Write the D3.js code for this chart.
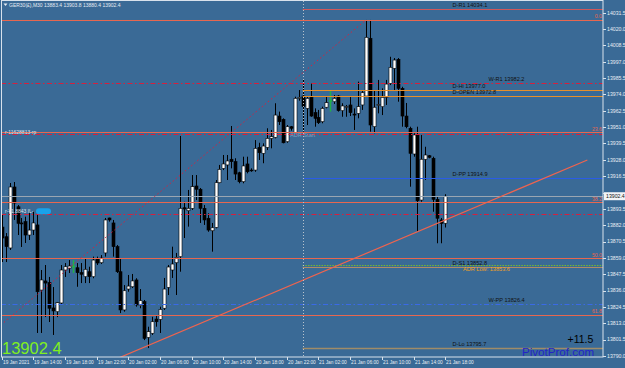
<!DOCTYPE html>
<html><head><meta charset="utf-8">
<script src="https://cdn.jsdelivr.net/npm/d3@7"></script>
<style>html,body{margin:0;padding:0;background:#3a6a96;overflow:hidden}svg{display:block}</style>
</head><body><div id="chart"></div>
<script>
// ---- data (GER30 M30, bar index 0 = 19 Jan 2021 10:00) ----
const opens  = [13880.7,13873.9,13866.0,13908.9,13895.0,13883.6,13884.5,13875.1,13878.6,13882.2,13836.4,13842.8,13841.6,13823.8,13821.2,13827.3,13850.5,13851.7,13852.6,13852.1,13848.6,13845.8,13849.3,13845.8,13858.2,13855.6,13862.5,13887.1,13883.6,13866.9,13849.3,13822.4,13837.1,13838.7,13843.5,13825.4,13828.2,13803.1,13806.0,13816.0,13815.8,13823.6,13838.3,13850.5,13855.6,13859.9,13894.3,13892.2,13893.9,13909.6,13907.3,13893.9,13886.9,13878.1,13880.5,13911.9,13922.0,13924.4,13928.4,13926.7,13918.9,13912.6,13925.1,13920.8,13920.8,13936.8,13932.6,13936.8,13943.1,13943.8,13958.8,13956.5,13940.8,13951.3,13947.1,13971.3,13972.9,13964.2,13972.0,13961.2,13957.9,13954.8,13965.0,13968.9,13968.9,13972.9,13962.6,13965.4,13966.6,13960.2,13960.7,13966.6,13972.9,14013.5,13951.3,13966.6,13965.4,13972.0,13981.8,13992.4,13998.7,13978.3,13958.8,13950.2,13932.1,13945.5,13899.7,13928.4,13930.9,13929.1,13900.2,13885.7,13883.4];
const highs  = [13889.2,13876.5,13911.7,13912.4,13896.2,13887.1,13888.0,13891.5,13891.5,13889.2,13850.5,13854.0,13845.6,13838.5,13828.0,13854.0,13855.4,13857.5,13857.5,13855.4,13855.4,13858.9,13852.8,13859.9,13859.9,13861.0,13887.1,13887.3,13885.7,13868.1,13858.9,13839.9,13847.0,13847.7,13844.7,13837.1,13829.4,13810.6,13817.6,13818.8,13824.7,13844.9,13854.0,13866.9,13862.5,13944.8,13898.5,13906.8,13917.3,13917.3,13908.2,13896.2,13890.4,13883.6,13913.8,13924.4,13931.4,13931.4,13951.8,13929.1,13919.6,13930.2,13930.2,13922.0,13941.9,13940.0,13939.6,13950.2,13949.0,13967.8,13961.9,13957.2,13952.5,13951.8,13972.4,13977.1,13984.9,13972.4,13981.8,13964.2,13963.1,13965.4,13972.9,13976.6,13973.6,13973.6,13967.8,13966.6,13972.9,13964.2,13983.0,13977.1,14026.4,14026.4,13977.1,13984.2,13978.3,13984.2,14000.5,13999.6,13999.6,13979.4,13968.0,13951.3,13946.7,13951.3,13945.5,13937.2,13931.4,13930.2,13902.1,13887.1,13903.8];
const lows   = [13856.1,13856.1,13864.6,13885.7,13875.1,13866.7,13869.5,13871.6,13875.1,13806.2,13806.2,13817.4,13813.9,13804.8,13817.4,13825.9,13845.6,13848.4,13848.4,13838.7,13841.3,13841.3,13841.3,13844.7,13854.0,13854.7,13859.9,13884.5,13859.9,13848.4,13820.2,13821.2,13835.2,13837.8,13824.7,13823.6,13801.2,13795.6,13804.8,13810.6,13806.2,13822.4,13832.9,13844.9,13832.9,13849.3,13873.0,13881.0,13892.7,13899.7,13883.6,13882.2,13877.4,13863.4,13879.8,13911.5,13920.8,13913.8,13922.0,13913.8,13911.5,13911.5,13918.5,13919.6,13919.6,13927.9,13925.6,13934.9,13936.1,13943.1,13952.5,13939.6,13940.0,13948.5,13946.7,13969.6,13947.8,13952.5,13958.3,13951.3,13953.2,13953.7,13964.2,13961.9,13967.3,13961.9,13958.3,13958.3,13958.8,13949.0,13957.2,13963.1,13972.4,13947.8,13946.7,13960.7,13959.5,13966.6,13980.6,13977.1,13968.9,13951.3,13950.2,13909.1,13930.2,13877.4,13898.5,13913.8,13929.1,13891.5,13869.3,13869.3,13880.4];
const closes = [13873.0,13866.9,13908.9,13897.6,13883.3,13882.9,13875.1,13878.6,13883.6,13835.2,13843.5,13841.3,13823.6,13821.7,13827.5,13850.5,13852.8,13853.3,13853.3,13848.6,13847.5,13851.0,13845.8,13857.5,13855.4,13858.9,13885.7,13885.7,13866.9,13849.3,13822.4,13835.9,13839.2,13842.8,13825.9,13828.9,13802.4,13807.1,13814.1,13814.1,13822.8,13837.1,13852.6,13854.7,13859.4,13893.9,13893.4,13893.9,13909.1,13907.3,13893.9,13885.7,13878.6,13880.2,13911.9,13921.3,13925.1,13927.2,13926.7,13918.0,13912.6,13923.7,13919.6,13920.6,13936.1,13933.0,13937.7,13943.1,13944.3,13959.5,13954.8,13940.0,13951.3,13950.2,13971.3,13972.0,13965.4,13971.3,13958.8,13957.2,13954.1,13964.2,13968.2,13969.6,13971.3,13962.6,13965.9,13965.5,13961.2,13959.5,13965.4,13975.2,14014.2,13952.5,13965.0,13966.9,13972.0,13981.3,13993.1,13998.2,13978.3,13958.8,13951.3,13932.6,13945.5,13899.2,13928.4,13931.4,13929.8,13900.2,13886.9,13883.3,13902.4];
const markedBars = [18, 83];               // green highlighted bars
const timeLabels = ["19 Jan 2021","19 Jan 14:00","19 Jan 18:00","19 Jan 22:00","20 Jan 02:00","20 Jan 06:00","20 Jan 10:00","20 Jan 14:00","20 Jan 18:00","20 Jan 22:00","21 Jan 02:00","21 Jan 06:00","21 Jan 10:00","21 Jan 14:00","21 Jan 18:00"];
const timeLabelBars = [0,8,16,24,32,40,48,56,64,72,80,88,96,104,112];
const priceTicks = [14031.5,14020.0,14008.5,13997.0,13985.5,13974.0,13962.5,13951.0,13939.5,13928.0,13916.5,13905.0,13893.5,13882.0,13870.5,13859.0,13847.5,13836.0,13824.5,13813.0,13801.5,13790.0];
const dailyNames  = ["D-R1","D-Hi","D-OPEN","D-PP","D-S1","D-Lo"];
const dailyValues = [14034.1,13977.0,13972.8,13914.9,13852.8,13795.7];
const weeklyNames  = ["W-R1","W-PP"];
const weeklyValues = [13982.2,13826.4];
const extraDashValues = [13945.9,13890.1];
const fibNames  = ["0.0","23.6","38.2","50.0","61.8"];
const fibRatios = [0,0.236,0.382,0.5,0.618];
const fibHigh = 14026.4, fibLow = 13691.0;
const adrLow = 13853.6;
const dayStartBar = 76;
const trendBars = [20, 147.9], trendPrices = [13777.4, 13927.9];
const fibLineBars = [-1, 92], fibLinePrices = [13810.0, 14026.4];
const lastPrice = 13902.4, changeText = "+11.5";
const headerText = "GER30(£),M30  13883.4 13903.8 13880.4 13902.4";

// ---- drawing ----
const W = 625, H = 368, plotR = 603, plotB = 357;
const BG = "#3a6a96", FONT = "'Liberation Sans', Arial, sans-serif";
const svg = d3.select("#chart").append("svg").attr("width", W).attr("height", H);
svg.append("rect").attr("width", W).attr("height", H).attr("fill", BG);
svg.append("defs").append("clipPath").attr("id","plot").append("rect")
  .attr("x",1).attr("y",1).attr("width",plotR-1).attr("height",plotB-1);

const x = d3.scaleLinear().domain([0,112]).range([1.7,445.2]);
const y = d3.scaleLinear().domain([13790,14031.5]).range([356,12.7]);
const g = svg.append("g").attr("clip-path","url(#plot)");
const hline = (p, x0, stroke, sw, dash) => g.append("line")
  .attr("x1",x0).attr("x2",plotR).attr("y1",Math.round(y(p))+0.5).attr("y2",Math.round(y(p))+0.5)
  .attr("stroke",stroke).attr("stroke-width",sw).attr("stroke-dasharray",dash||null);

// candles
const bars = d3.range(opens.length).map(i => ({i, o:opens[i], h:highs[i], l:lows[i], c:closes[i]}));
const cg = g.append("g");
bars.forEach(b => {
  const cx = Math.round(x(b.i)) + 0.5;
  const marked = markedBars.includes(b.i);
  const col = marked ? "#22b04a" : "#000";
  cg.append("line").attr("x1",cx).attr("x2",cx).attr("y1",y(b.h)).attr("y2",y(b.l))
    .attr("stroke",col).attr("stroke-width",marked?1.5:1);
  const top = y(Math.max(b.o,b.c)), bot = y(Math.min(b.o,b.c));
  const bull = b.c >= b.o;
  cg.append("rect").attr("x",cx-1.5).attr("y",top).attr("width",3).attr("height",Math.max(bot-top,0.8))
    .attr("fill", marked ? "#22b04a" : (bull ? "#fff" : "#000"))
    .attr("stroke", marked ? "#22b04a" : "#000").attr("stroke-width",0.6);
});

// fib levels
const fibVals = fibRatios.map(r => fibHigh - r*(fibHigh-fibLow));
fibVals.forEach((v,k) => {
  hline(v, 1, "#e8674f", 1);
  g.append("text").attr("x",602).attr("y",y(v)-1.5).attr("text-anchor","end")
    .attr("font-family",FONT).attr("font-size",5.2).attr("fill","#e8674f").text(fibNames[k]);
});
// weekly & other dash-dot levels
hline(weeklyValues[0], 1, "#d6203e", 1, "5,2.5,1.5,2.5");
hline(weeklyValues[1], 1, "#3a6ae6", 1, "5,2.5,1.5,2.5");
extraDashValues.forEach(v => hline(v, 1, "#d6203e", 1, "5,2.5,1.5,2.5"));
// bid line
hline(lastPrice, 1, "#9aa6b2", 1);
// daily pivot lines (from start of current day)
const dx0 = x(dayStartBar);
const dColors = ["#d0585a","#e8902a","#e8902a","#2a5ce6","#b08a6a","#a08c68"];
const dWidth  = [1,1.2,1.2,1,1,1.6];
dailyValues.forEach((v,k) => hline(v, dx0, dColors[k], dWidth[k]));
g.append("line").attr("x1",dx0).attr("x2",plotR).attr("y1",y(adrLow)).attr("y2",y(adrLow))
  .attr("stroke","#7cc222").attr("stroke-width",1).attr("stroke-dasharray","1.5,1.2");
// trend lines
const line = d3.line().x(d=>x(d[0])).y(d=>y(d[1]));
g.append("path").attr("d", line(d3.zip(fibLineBars, fibLinePrices))).attr("fill","none")
  .attr("stroke","#d6203e").attr("stroke-width",1).attr("stroke-dasharray","1.5,2.5");
g.append("path").attr("d", line(d3.zip(trendBars, trendPrices))).attr("fill","none")
  .attr("stroke","#f0644e").attr("stroke-width",1.2);
// day separator
g.append("line").attr("x1",Math.round(dx0)+0.5).attr("x2",Math.round(dx0)+0.5).attr("y1",1).attr("y2",plotB)
  .attr("stroke","#b8c2cc").attr("stroke-width",1).attr("stroke-dasharray","1,2");

// labels for levels
const lab = (tx, ty, txt, fill, size, anchor) => svg.append("text").attr("x",tx).attr("y",ty)
  .attr("font-family",FONT).attr("font-size",size||5.6).attr("fill",fill||"#111")
  .attr("text-anchor",anchor||"start").text(txt);
dailyValues.forEach((v,k) => lab(452.5, y(v)-2, dailyNames[k]+" "+v.toFixed(1)));
weeklyValues.forEach((v,k) => lab(488.5, y(v)-2, weeklyNames[k]+" "+v.toFixed(1)));
lab(463, y(adrLow)+5, "ADR Low: "+adrLow.toFixed(1), "#f0a020", 5.6);
lab(290, y(13946.5)+3, "ADR Start", "#7f9fbf", 5.6);
lab(5, y(extraDashValues[0])-0.5, "r-11628813-rp", "#dfe6ee", 5);
lab(5, y(extraDashValues[1])-0.5, "r-¥1.8843 lL-", "#dfe6ee", 5);
svg.append("rect").attr("x",36).attr("y",y(extraDashValues[1])-5.5).attr("width",15).attr("height",6)
  .attr("rx",3).attr("fill","#19a2ea");

// axes frame
svg.append("rect").attr("x",1.5).attr("y",0.5).attr("width",plotR-1.5).attr("height",plotB-0.5)
  .attr("fill","none").attr("stroke","#d8e2ec").attr("stroke-width",1);
// right price axis (labels hidden where the current-price box covers them)
priceTicks.forEach(p => {
  svg.append("line").attr("x1",plotR).attr("x2",plotR+3).attr("y1",Math.round(y(p))+0.5).attr("y2",Math.round(y(p))+0.5)
    .attr("stroke","#d8e2ec");
  if (Math.abs(y(p) - y(lastPrice)) > 7) lab(607, y(p)+1.8, p.toFixed(1), "#e6edf4", 5.2);
});
svg.append("rect").attr("x",plotR+1).attr("y",y(lastPrice)-4).attr("width",22).attr("height",8).attr("fill","#f2f4f6");
lab(606, y(lastPrice)+1.8, lastPrice.toFixed(1), "#111", 5.2);
// bottom time axis
timeLabelBars.forEach((bi,k) => {
  const tx = Math.round(x(bi))+0.5;
  svg.append("line").attr("x1",tx).attr("x2",tx).attr("y1",plotB).attr("y2",plotB+3).attr("stroke","#d8e2ec");
  lab(tx+0.5, 364.3, timeLabels[k], "#e6edf4", 4.8);
});

// header + big texts
svg.append("path").attr("d","M3.5,3.5 L7.5,3.5 L5.5,6 Z").attr("fill","#e6edf4");
lab(9, 6.6, headerText, "#e6edf4", 5);
lab(2, 353.5, lastPrice.toFixed(1), "#80f020", 16.5);
lab(567.5, 343, changeText, "#000", 10.5);
lab(522, 356, "PivotProf.com", "#2323c8", 11.6);
</script></body></html>
